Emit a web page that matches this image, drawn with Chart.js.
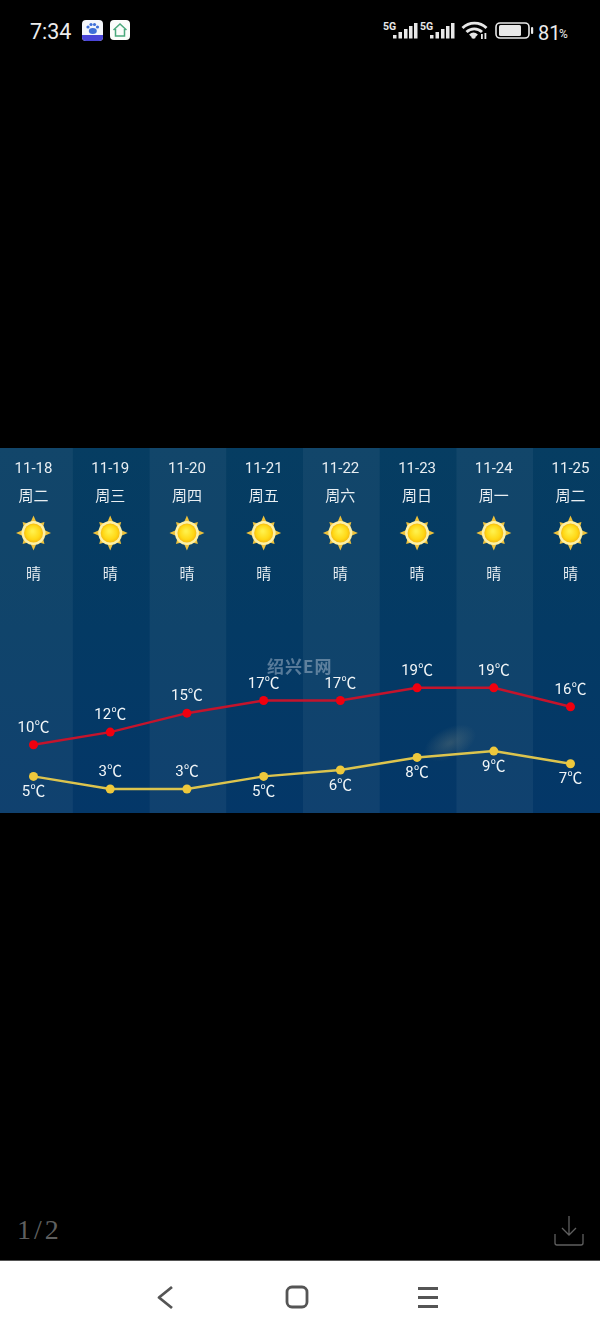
<!DOCTYPE html>
<html lang="zh"><head><meta charset="utf-8">
<style>
html,body{margin:0;padding:0;background:#000;width:600px;height:1333px;overflow:hidden;position:relative}
canvas#c{position:absolute;left:0;top:448px}
.t{position:absolute;white-space:nowrap;line-height:1}
svg{position:absolute;left:0;top:0}
#nav{position:absolute;left:0;top:1260px;width:600px;height:73px;background:#fff;border-top:1px solid #555;box-sizing:border-box}
</style></head><body>
<div class="t" style="left:30px;top:19px;font:400 21.500px Roboto;color:#ececec">7:34</div>
<div class="t" style="left:383px;top:20px;font:700 10.500px Roboto;color:#e8e8e8">5G</div>
<div class="t" style="left:420px;top:20px;font:700 10.500px Roboto;color:#e8e8e8">5G</div>
<div class="t" style="left:538px;top:21px;font:400 20px Roboto;color:#ececec">81</div>
<div class="t" style="left:559px;top:27px;font:400 12px Roboto;color:#ececec">%</div>
<div class="t" style="left:17px;top:1214px;font:28px 'Liberation Serif';letter-spacing:3px;color:#5f5f5f">1/2</div>
<div id="nav"></div>
<svg width="600" height="1333" viewBox="0 0 600 1333" fill="none">
  <rect x="82" y="20" width="21" height="21" rx="4" fill="#f4f6fb"/>
  <path d="M82 35h21v2a4 4 0 0 1-4 4H86a4 4 0 0 1-4-4z" fill="#4a45d8"/>
  <g fill="#3f6fd8"><circle cx="88" cy="27" r="1.6"/><circle cx="91" cy="24.5" r="1.6"/><circle cx="94.5" cy="24.5" r="1.6"/><circle cx="97.5" cy="27" r="1.6"/><ellipse cx="92.8" cy="31" rx="4" ry="3"/></g>
  <rect x="110" y="20" width="20" height="20" rx="4" fill="#fbfdfb"/>
  <path d="M113.5 30l6.5-6 6.5 6M115.5 29v7h9v-7" stroke="#4aa97c" stroke-width="1.5"/>
  <g fill="#e8e8e8">
    <rect x="393" y="35" width="3.500" height="3.500"/><rect x="398.500" y="32" width="3.500" height="6.500"/><rect x="404" y="29" width="3.500" height="9.500"/><rect x="409" y="26" width="3.500" height="12.500"/><rect x="414" y="23" width="3.500" height="15.500"/>
    <rect x="430" y="35" width="3.500" height="3.500"/><rect x="435.500" y="32" width="3.500" height="6.500"/><rect x="441" y="29" width="3.500" height="9.500"/><rect x="446" y="26" width="3.500" height="12.500"/><rect x="451" y="23" width="3.500" height="15.500"/>
    <circle cx="473.500" cy="36.500" r="2.300"/><rect x="481" y="34" width="1.800" height="5"/><rect x="484.500" y="33" width="1.800" height="6"/>
    <rect x="499" y="25" width="22" height="11" rx="1.500"/><rect x="531" y="27" width="2.200" height="7" rx="1"/>
  </g>
  <g stroke="#e8e8e8" stroke-width="2.800">
    <path d="M462.500 28a17 17 0 0 1 24 0M466.500 32a11 11 0 0 1 15.500 0M470 35.500a5.500 5.500 0 0 1 7 0"/>
  </g>
  <rect x="496" y="23" width="33" height="15" rx="4" stroke="#e8e8e8" stroke-width="1.600"/>
  <path d="M569 1216v19M562 1228l7 7 7-7M555 1234v9a2 2 0 0 0 2 2h24a2 2 0 0 0 2-2v-9" stroke="#5f5f5f" stroke-width="1.300"/>
  <path d="M172 1287l-13 10.500 13 10.500" stroke="#555" stroke-width="2.800" stroke-linejoin="round"/>
  <rect x="287" y="1287" width="20" height="20" rx="5" stroke="#555" stroke-width="2.800"/>
  <path d="M418 1288.500h20M418 1297.500h20M418 1306.500h20" stroke="#555" stroke-width="2.800"/>
</svg>
<canvas id="c" width="600" height="365"></canvas>
<script src="https://cdn.jsdelivr.net/npm/chart.js@4"></script>
<script>
const dates=['11-18','11-19','11-20','11-21','11-22','11-23','11-24','11-25'];
const weekdays=['周二','周三','周四','周五','周六','周日','周一','周二'];
const weather=['晴','晴','晴','晴','晴','晴','晴','晴'];
const highs=[10,12,15,17,17,19,19,16];
const lows=[5,3,3,5,6,8,9,7];
const lowLabelAbove=[false,true,true,false,false,false,false,false];
const unit='℃';
const FONT="Roboto,'Noto Sans CJK SC',sans-serif";

const backdrop={id:'backdrop',beforeDraw(ch){
  const {ctx,width:w,height:h,scales:{x}}=ch;
  ctx.save();
  const g=ctx.createLinearGradient(0,0,0,h);
  g.addColorStop(0,'#063d62');g.addColorStop(.5,'#043a64');g.addColorStop(1,'#043768');
  ctx.fillStyle=g;ctx.fillRect(0,0,w,h);
  // lighter alternating columns, edges halfway between categories
  const edge=i=>(x.getPixelForValue(i)+x.getPixelForValue(i+1))/2+1;
  for(let i=0;i<dates.length;i+=2){
    const l=i===0?0:edge(i-1), r=i===dates.length-1?w:edge(i);
    ctx.fillStyle='rgba(255,255,255,0.05)';
    ctx.fillRect(l,0,r-l,h);
  }
  // faint glow
  ctx.save();ctx.translate(450,295);ctx.rotate(-0.45);ctx.scale(1,0.55);
  const gl=ctx.createRadialGradient(0,0,2,0,0,28);
  gl.addColorStop(0,'rgba(200,185,140,.2)');gl.addColorStop(1,'rgba(200,185,140,0)');
  ctx.fillStyle=gl;ctx.fillRect(-30,-30,60,60);
  ctx.restore();
  // watermark
  ctx.fillStyle='rgba(190,205,220,.45)';ctx.font="700 17px 'Noto Sans CJK SC'";
  ctx.letterSpacing='1px';
  ctx.textAlign='left';ctx.textBaseline='middle';
  ctx.fillText('绍兴E网',267,219);
  ctx.letterSpacing='0px';
  ctx.restore();
}};

function sun(ctx,cx,cy){
  ctx.save();ctx.translate(cx,cy);
  ctx.fillStyle='#eec23c';
  for(let k=0;k<8;k++){
    const len=k%2?15.5:17.5;
    ctx.save();ctx.rotate(k*Math.PI/4);
    ctx.beginPath();ctx.moveTo(-3.2,-10);ctx.lineTo(0,-len);ctx.lineTo(3.2,-10);ctx.closePath();ctx.fill();ctx.restore();
  }
  ctx.fillStyle='#fdf0a6';ctx.beginPath();ctx.arc(0,0,12,0,7);ctx.fill();
  const g=ctx.createRadialGradient(-1,-2,1,0,0,9.500);
  g.addColorStop(0,'#fff04a');g.addColorStop(.7,'#ffd816');g.addColorStop(1,'#f7bd10');
  ctx.fillStyle=g;ctx.beginPath();ctx.arc(0,0,9.500,0,7);ctx.fill();
  ctx.restore();
}

const annotate={id:'annotate',afterDatasetsDraw(ch){
  const {ctx,scales:{x,y}}=ch;
  ctx.save();
  ctx.textAlign='center';ctx.textBaseline='middle';
  dates.forEach((d,i)=>{
    const px=x.getPixelForValue(i);
    sun(ctx,px,85);
    ctx.fillStyle='#e6edf2';ctx.font='15px '+FONT;
    ctx.fillText(weather[i],px,127.5);
    ctx.fillStyle='#f2f6f8';ctx.font='15px '+FONT;
    ctx.fillText(highs[i]+unit,px,y.getPixelForValue(highs[i])-16.5);
    const off=lowLabelAbove[i]?-17:16;
    ctx.fillText(lows[i]+unit,px,y.getPixelForValue(lows[i])+off);
  });
  ctx.restore();
}};

new Chart(document.getElementById('c'),{
  type:'line',
  data:{labels:dates.map((d,i)=>[d,weekdays[i]]),datasets:[
    {label:'最高气温',data:highs,borderColor:'#c4142c',backgroundColor:'#f0000f',borderWidth:2.500,pointRadius:4.500,pointHoverRadius:4.500,tension:0,pointBorderWidth:0},
    {label:'最低气温',data:lows,borderColor:'#dcc44e',backgroundColor:'#eec83c',borderWidth:2.500,pointRadius:4.500,pointHoverRadius:4.500,tension:0,pointBorderWidth:0}
  ]},
  options:{
    responsive:false,animation:false,
    layout:{padding:{left:33.5,right:29.5,top:0,bottom:0}},
    plugins:{legend:{display:false},tooltip:{enabled:false},title:{display:false}},
    scales:{
      x:{position:'top',offset:false,grid:{display:false},border:{display:false},
        afterFit(s){s.height=70;},
        ticks:{color:'#e8eef2',font:{size:15,family:FONT,lineHeight:1.87},padding:-1,maxRotation:0,autoSkip:false}},
      y:{display:false,min:-0.08,max:45.86}
    }
  },
  plugins:[backdrop,annotate]
});
</script>
</body></html>
